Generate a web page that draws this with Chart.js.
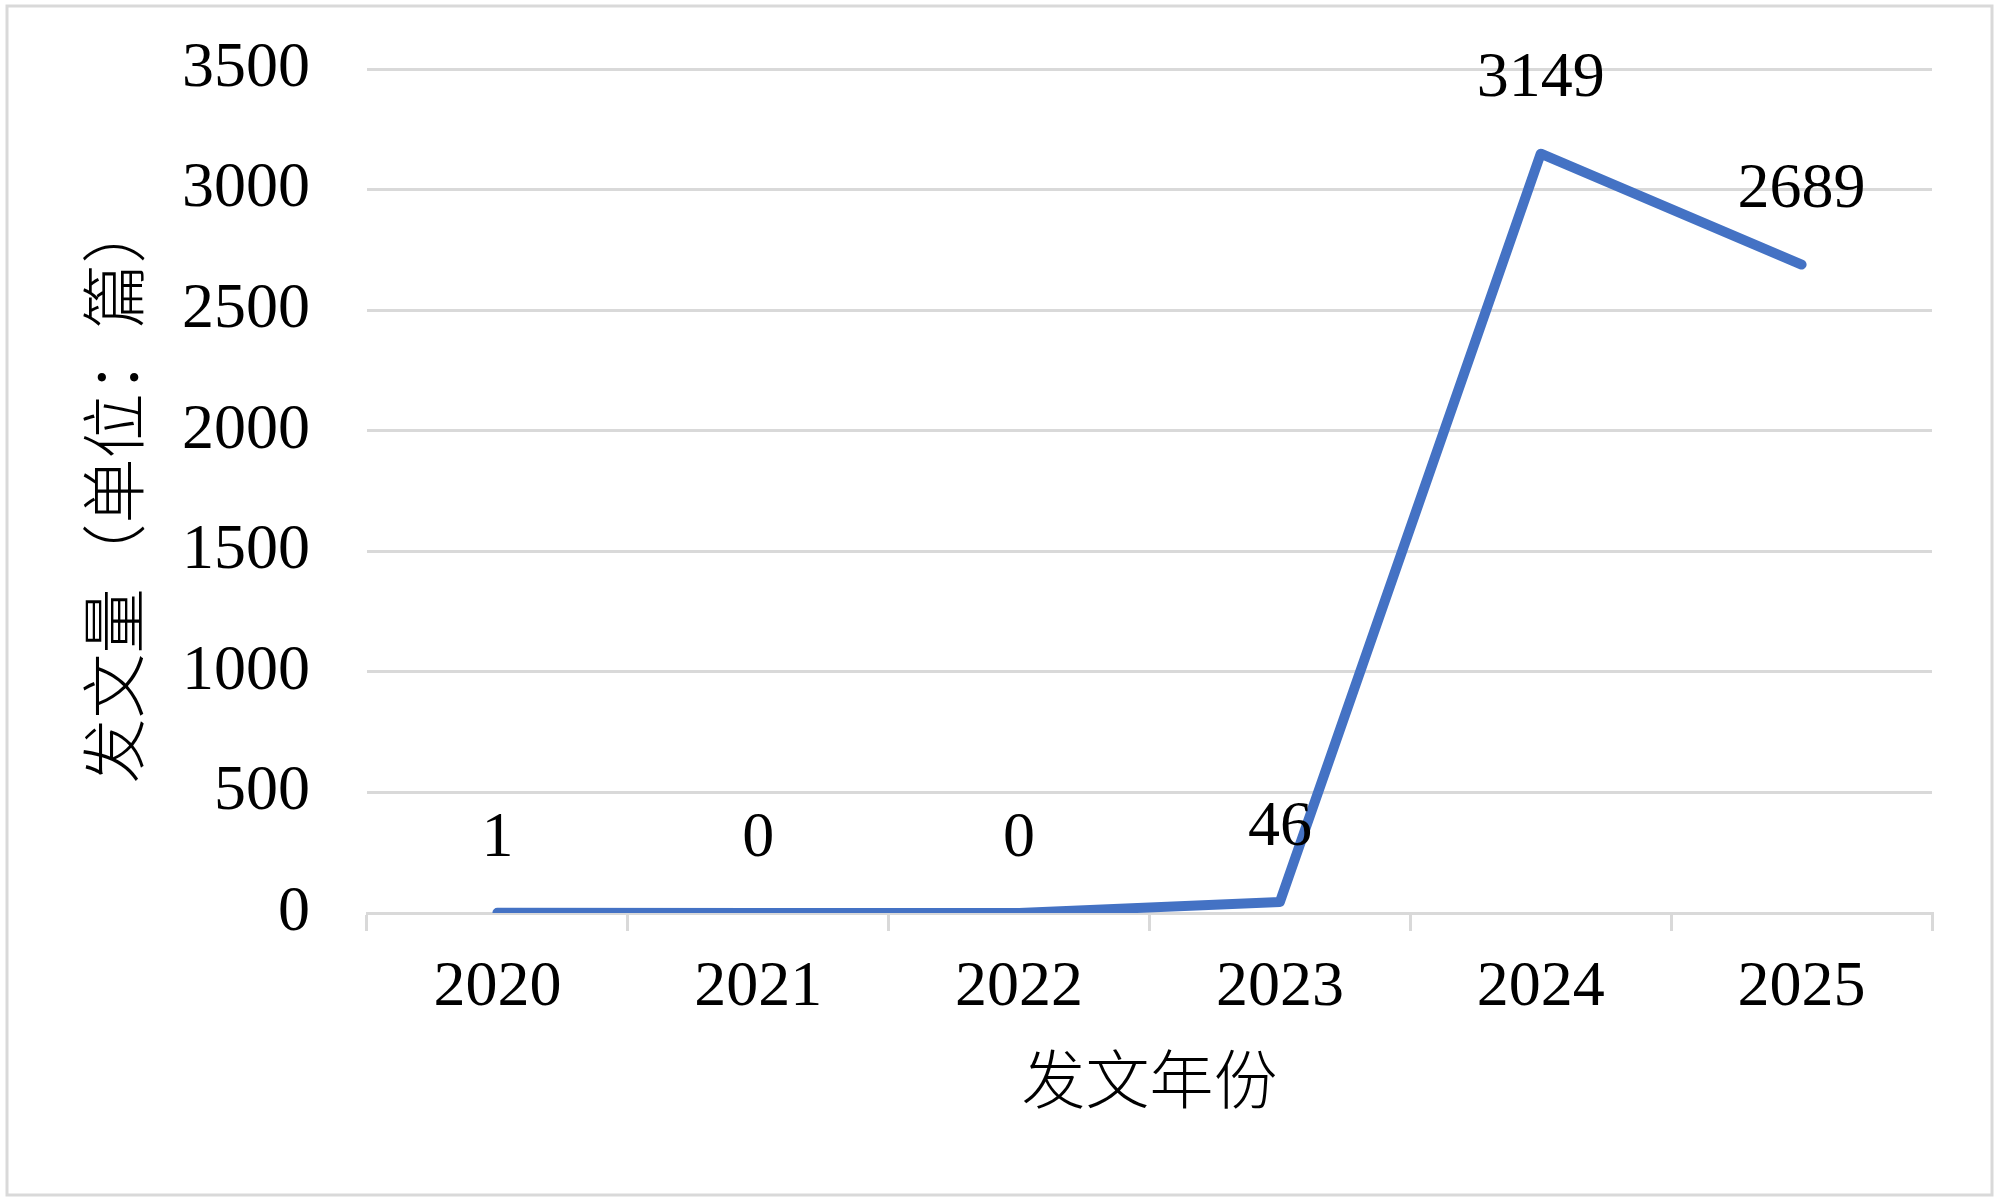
<!DOCTYPE html>
<html>
<head>
<meta charset="utf-8">
<script src="https://cdn.jsdelivr.net/npm/chart.js@4/dist/chart.umd.min.js"></script>
<style>
  html, body { margin: 0; padding: 0; background: #fff; }
  #wrap { width: 2000px; height: 1202px; position: relative; }
</style>
</head>
<body>
<div id="wrap"><canvas id="c" width="2000" height="1202"></canvas></div>
<script>
const years = ['2020', '2021', '2022', '2023', '2024', '2025'];
const counts = [1, 0, 0, 46, 3149, 2689];
const yTitle = '发文量（单位：篇）';
const xTitle = '发文年份';

const serif = "'Liberation Serif', 'Times New Roman', 'Noto Sans CJK SC', serif";

const frame = {
  id: 'frame',
  beforeDraw(chart) {
    const ctx = chart.ctx;
    ctx.save();
    ctx.fillStyle = '#ffffff';
    ctx.fillRect(0, 0, chart.width, chart.height);
    ctx.strokeStyle = '#D9D9D9';
    ctx.lineWidth = 3;
    ctx.strokeRect(7, 6, 1985, 1189);
    ctx.restore();
  }
};

const valueLabels = {
  id: 'valueLabels',
  afterDatasetsDraw(chart) {
    const ctx = chart.ctx;
    const meta = chart.getDatasetMeta(0);
    const data = chart.data.datasets[0].data;
    ctx.save();
    ctx.font = '64px ' + serif;
    ctx.fillStyle = '#000';
    ctx.textAlign = 'center';
    ctx.textBaseline = 'middle';
    meta.data.forEach((pt, i) => {
      ctx.fillText(String(data[i]), pt.x, pt.y - 74);
    });
    ctx.restore();
  }
};

new Chart(document.getElementById('c'), {
  type: 'line',
  data: {
    labels: years,
    datasets: [{
      data: counts,
      borderColor: '#4472C4',
      backgroundColor: '#4472C4',
      borderWidth: 10,
      borderCapStyle: 'round',
      borderJoinStyle: 'round',
      pointRadius: 0,
      tension: 0,
      fill: false
    }]
  },
  options: {
    responsive: false,
    animation: false,
    devicePixelRatio: 1,
    layout: { padding: { left: 0, top: 69, right: 68, bottom: 0 } },
    plugins: { legend: { display: false }, tooltip: { enabled: false } },
    scales: {
      x: {
        offset: true,
        afterFit(scale) { scale.height = 289; scale.paddingLeft = 0; scale.paddingRight = 0; },
        grid: {
          offset: true,
          drawOnChartArea: false,
          drawTicks: true,
          tickLength: 18,
          color: '#D9D9D9',
          lineWidth: 3
        },
        border: { display: true, color: '#D9D9D9', width: 3 },
        ticks: {
          color: '#000',
          padding: 19,
          maxRotation: 0,
          font: { family: serif, size: 64 }
        },
        title: {
          display: true,
          text: xTitle,
          color: '#000',
          padding: { top: 0, bottom: 77 },
          font: { family: serif, size: 64, weight: '300' }
        }
      },
      y: {
        min: 0,
        max: 3500,
        afterFit(scale) { scale.width = 367; scale.paddingTop = 0; scale.paddingBottom = 0; },
        grid: {
          drawTicks: false,
          color: '#D9D9D9',
          lineWidth: 3
        },
        border: { display: false },
        ticks: {
          stepSize: 500,
          color: '#000',
          padding: 57,
          font: { family: serif, size: 64 },
          callback: (v) => String(v)
        },
        title: {
          display: true,
          text: yTitle,
          color: '#000',
          padding: { top: 82, bottom: 0 },
          font: { family: serif, size: 65, weight: '300' }
        }
      }
    }
  },
  plugins: [frame, valueLabels]
});
</script>
</body>
</html>
